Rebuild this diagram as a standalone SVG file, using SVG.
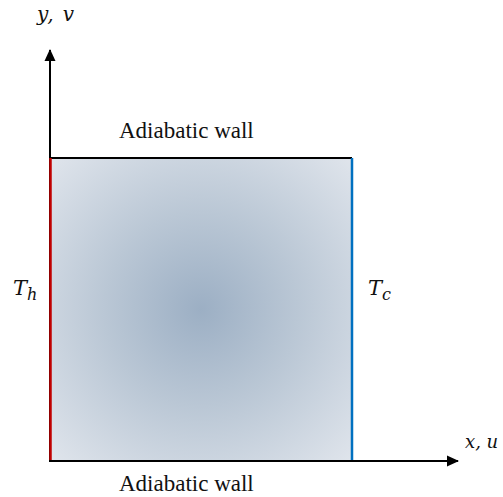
<svg xmlns="http://www.w3.org/2000/svg" width="503" height="497" viewBox="0 0 503 497">
<style>
.lbl{font-family:"Liberation Serif","Times New Roman",serif;font-size:23px;fill:#111}
.math{font-family:"DejaVu Serif","Liberation Serif",serif;font-style:italic;fill:#111}
.ax{stroke:#000;stroke-width:2;fill:none}
</style>
<defs>
<radialGradient id="g" cx="0.5" cy="0.5" r="0.71">
<stop offset="0" stop-color="#9cafc4"/>
<stop offset="0.45" stop-color="#bac7d5"/>
<stop offset="1" stop-color="#e0e5ec"/>
</radialGradient>
<marker id="ah" markerWidth="12" markerHeight="12" refX="11" refY="6" orient="auto" markerUnits="userSpaceOnUse">
<path d="M0,0.5 L12,6 L0,11.5 Z" fill="#000"/>
</marker>
</defs>
<g id="domain">
<rect x="50" y="158" width="302" height="303" fill="url(#g)"/>
</g>
<g id="connectors">
<line class="ax" x1="50" y1="461" x2="50" y2="50" marker-end="url(#ah)"/>
<line class="ax" x1="49" y1="461" x2="458" y2="461" marker-end="url(#ah)"/>
<line x1="50" y1="158" x2="352" y2="158" stroke="#000" stroke-width="2"/>
<line x1="50.5" y1="158" x2="50.5" y2="460" stroke="#c00000" stroke-width="2.5"/>
<line x1="352" y1="158" x2="352" y2="460" stroke="#0070c0" stroke-width="2.5"/>
</g>
<g id="top-wall"><text class="lbl" x="119" y="138">Adiabatic wall</text></g>
<g id="bottom-wall"><text class="lbl" x="119" y="491">Adiabatic wall</text></g>
<g id="hot"><text class="math" x="13" y="295" font-size="21">T<tspan font-size="16" dy="5">h</tspan></text></g>
<g id="cold"><text class="math" x="368" y="295" font-size="21">T<tspan font-size="16" dy="5">c</tspan></text></g>
<g id="yaxis-label"><text class="math" x="37" y="21" font-size="20" letter-spacing="1.5">y, v</text></g>
<g id="xaxis-label"><text class="math" x="465" y="448" font-size="18">x, u</text></g>
</svg>
